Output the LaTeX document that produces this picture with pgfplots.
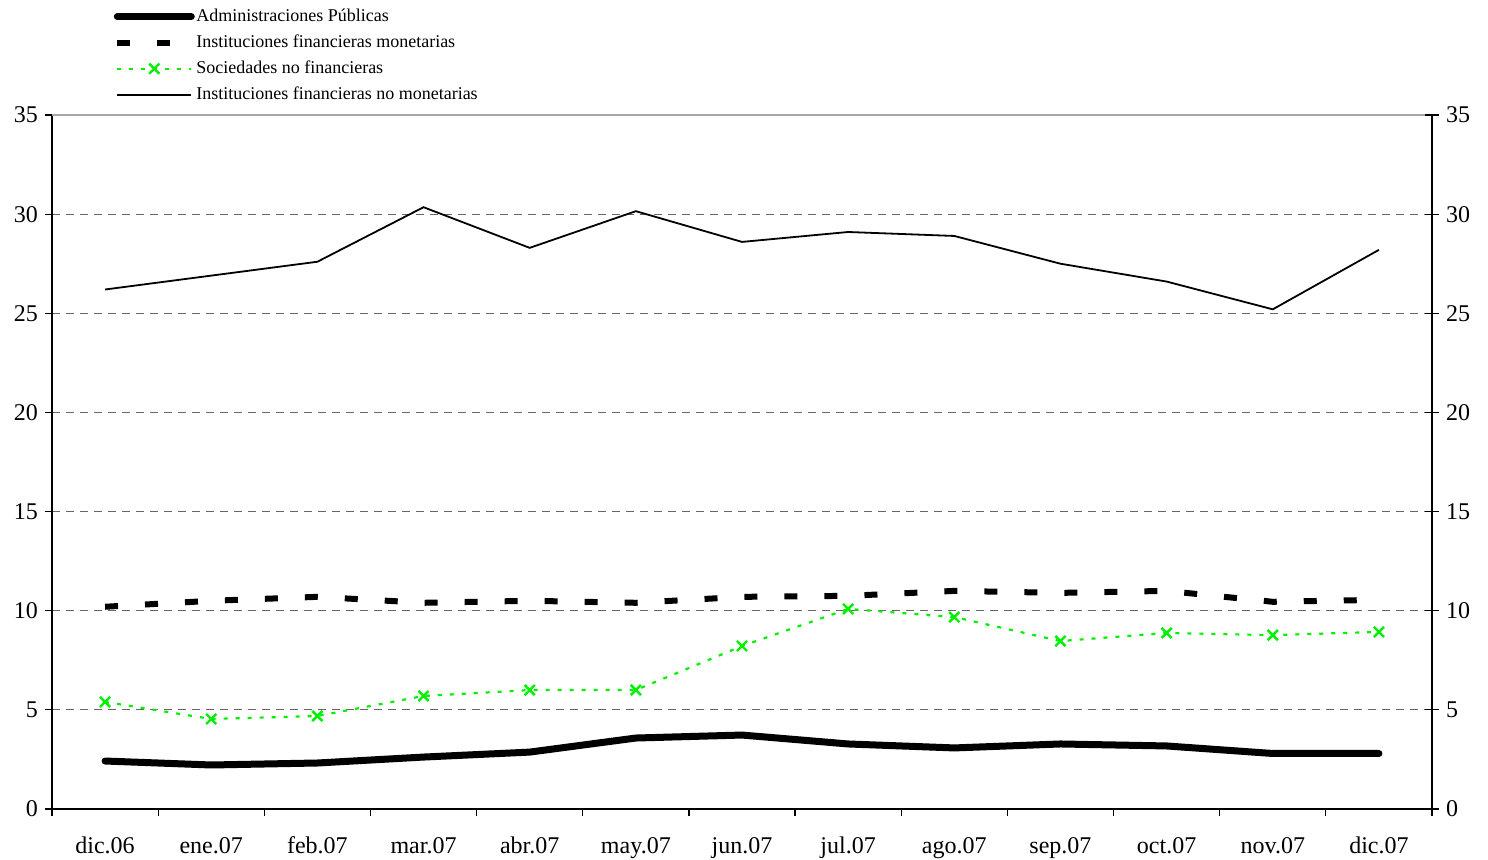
\documentclass[border=0pt]{standalone}
\usepackage{fontspec}
\setmainfont{Liberation Serif}
\usepackage{pgfplots}
\usepackage{pgfplotstable}
\pgfplotsset{compat=1.18}

\pgfplotstableread{
x ap ifm snf ifnm
0 2.42 10.20 5.40 26.2
1 2.22 10.50 4.54 26.9
2 2.32 10.70 4.69 27.6
3 2.62 10.40 5.70 30.35
4 2.87 10.50 6.00 28.3
5 3.58 10.40 6.00 30.15
6 3.73 10.70 8.22 28.6
7 3.28 10.75 10.09 29.1
8 3.08 11.00 9.68 28.9
9 3.28 10.90 8.47 27.5
10 3.18 11.00 8.88 26.6
11 2.80 10.45 8.77 25.2
12 2.80 10.55 8.93 28.2
}\data

\begin{document}
\begin{tikzpicture}
\begin{axis}[
  width=690pt, height=347pt, scale only axis,
  xmin=-0.5, xmax=12.5, ymin=0, ymax=35,
  ytick={0,5,...,35},
  xtick={0,...,12},
  xticklabels={dic.06,ene.07,feb.07,mar.07,abr.07,may.07,jun.07,jul.07,ago.07,sep.07,oct.07,nov.07,dic.07},
  minor xtick={-0.5,0.5,...,12.5},
  major x tick style={draw=none},
  major tick length=3.5pt, minor tick length=3.5pt,
  tick align=outside,
  axis x line*=bottom, axis y line*=left,
  axis line style={-, black, line width=0.8pt},
  tick style={black, line width=0.6pt},
  ymajorgrids,
  grid style={gray!80!black, line width=0.5pt, dash pattern=on 4pt off 3pt},
  tick label style={font=\fontsize{12}{14}\selectfont},
  /pgf/number format/assume math mode=true,
  xticklabel style={yshift=-7pt},
  legend cell align=left,
  legend image code/.code={\draw[mark repeat=2, mark phase=2, #1] plot coordinates {(0pt,0pt) (18.5pt,0pt) (37pt,0pt)};},
  legend style={at={(axis description cs:0.0445,1.1567)}, anchor=north west, draw=none, fill=none,
    font=\fontsize{9}{10}\selectfont, row sep=3pt, inner sep=0pt,
    nodes={inner sep=0.75pt, text height=6.5pt, text depth=2pt}},
  after end axis/.code={\draw[gray!70, line width=0.8pt] (rel axis cs:0,1) -- (rel axis cs:1,1);},
]
\coordinate (O) at (rel axis cs:0,0);
\addplot[black, line width=3.5pt, line cap=round, line join=round] table[x=x, y=ap] {\data};
\addlegendentry{Administraciones Públicas}
\addplot[black, line width=3pt, dash pattern=on 6.5pt off 13.5pt] table[x=x, y=ifm] {\data};
\addlegendentry{Instituciones financieras monetarias}
\addplot[color={rgb,255:red,0;green,240;blue,0}, line width=1.1pt, dash pattern=on 2pt off 4pt, mark=x, mark size=3.6pt, mark options={solid, line width=1.2pt}] table[x=x, y=snf] {\data};
\addlegendentry{Sociedades no financieras}
\addplot[black, line width=0.9pt] table[x=x, y=ifnm] {\data};
\addlegendentry{Instituciones financieras no monetarias}
\end{axis}
\begin{axis}[
  width=690pt, height=347pt, scale only axis,
  xmin=-0.5, xmax=12.5, ymin=0, ymax=35,
  axis x line=none, axis y line*=right,
  axis line style={-, black, line width=0.8pt},
  ytick={0,5,...,35},
  tick align=center, major tick length=7pt,
  tick style={black, line width=0.6pt},
  tick label style={font=\fontsize{12}{14}\selectfont},
  /pgf/number format/assume math mode=true,
]
\end{axis}
\pgfresetboundingbox
\path[use as bounding box] ([shift={(-26pt,-25pt)}]O) rectangle ([shift={(718pt,404.5pt)}]O);
\end{tikzpicture}
\end{document}
